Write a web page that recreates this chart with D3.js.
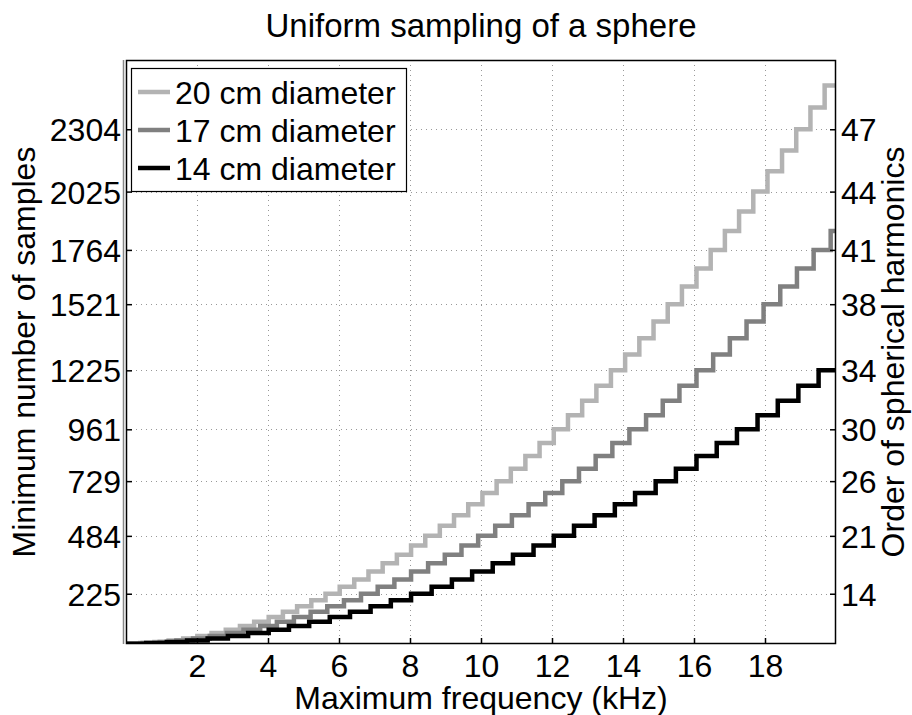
<!DOCTYPE html>
<html lang="en">
<head>
    <meta charset="utf-8">
    <title>Uniform sampling of a sphere</title>
    <script src="https://cdn.jsdelivr.net/npm/d3@7"></script>
    <style type="text/css">
    	body {
    		margin: 0;
    		background: #fff;
    	}
    	svg {
    		display: block;
    		font-family: "Liberation Sans", Arial, Helvetica, sans-serif;
    	}
    </style>
</head>
<body>
    <script type="text/javascript">
    // sample counts per order (index = order of spherical harmonics)
    var sampleLevels = [1, 4, 9, 16, 25, 36, 49, 64, 81, 100, 121, 144, 169, 196, 225, 256, 289, 324, 361, 400,
    	441, 484, 529, 576, 625, 676, 729, 784, 841, 900, 961, 1024, 1089, 1156, 1225, 1296, 1369, 1444, 1521, 1600,
    	1681, 1764, 1849, 1936, 2025, 2116, 2209, 2304, 2401, 2500, 2601];

    // frequencies (kHz) where the order goes up by one
    var edges20 = [0.40, 0.80, 1.20, 1.61, 2.01, 2.41, 2.81, 3.21, 3.61, 4.02, 4.42, 4.82, 5.22, 5.62, 6.02, 6.43,
    	6.83, 7.23, 7.63, 8.03, 8.43, 8.84, 9.24, 9.64, 10.04, 10.44, 10.84, 11.25, 11.65, 12.05, 12.45, 12.85,
    	13.25, 13.66, 14.06, 14.46, 14.86, 15.26, 15.66, 16.07, 16.47, 16.87, 17.27, 17.67, 18.07, 18.48, 18.88,
    	19.28, 19.68];
    var edges17 = [0.47, 0.95, 1.42, 1.89, 2.36, 2.84, 3.31, 3.78, 4.25, 4.73, 5.20, 5.67, 6.14, 6.62, 7.09, 7.56,
    	8.03, 8.51, 8.98, 9.45, 9.92, 10.40, 10.87, 11.34, 11.81, 12.29, 12.76, 13.23, 13.70, 14.18, 14.65, 15.12,
    	15.59, 16.07, 16.54, 17.01, 17.48, 17.96, 18.43, 18.90, 19.37, 19.85];
    var edges14 = [0.57, 1.15, 1.72, 2.30, 2.87, 3.44, 4.02, 4.59, 5.16, 5.74, 6.31, 6.89, 7.46, 8.03, 8.61, 9.18,
    	9.75, 10.33, 10.90, 11.48, 12.05, 12.62, 13.20, 13.77, 14.34, 14.92, 15.49, 16.07, 16.64, 17.21, 17.79,
    	18.36, 18.94, 19.51];

    var seriesNames = ["20 cm diameter", "17 cm diameter", "14 cm diameter"];
    var seriesEdges = [edges20, edges17, edges14];

    var xTicks = [2, 4, 6, 8, 10, 12, 14, 16, 18];
    var leftTicks = [225, 484, 729, 961, 1225, 1521, 1764, 2025, 2304];
    var rightTicks = [14, 21, 26, 30, 34, 38, 41, 44, 47];

    // look
    var colors = ["#b3b3b3", "#808080", "#000000"];
    var W = 912, H = 715;
    var pL = 126, pR = 836, pT = 60, pB = 644;	// plot box
    var fontSize = 32;

    var x = d3.scaleLinear().domain([0, 20]).range([pL, pR]);
    var y = d3.scaleLinear().domain([0, 2614]).range([pB, pT]);

    var svg = d3.select("body").append("svg")
    	.attr("width", W)
    	.attr("height", H);

    svg.append("clipPath").attr("id", "plotClip")
    	.append("rect")
    	.attr("x", pL).attr("y", pT)
    	.attr("width", pR - pL).attr("height", pB - pT);

    // dotted grid
    var grid = svg.append("g")
    	.attr("stroke", "#999")
    	.attr("stroke-width", 1)
    	.attr("stroke-dasharray", "1,4");
    grid.selectAll("line.gx").data(xTicks).enter().append("line")
    	.attr("x1", function(d){ return Math.round(x(d)) + 0.5; })
    	.attr("x2", function(d){ return Math.round(x(d)) + 0.5; })
    	.attr("y1", pT).attr("y2", pB);
    grid.selectAll("line.gy").data(leftTicks).enter().append("line")
    	.attr("y1", function(d){ return Math.round(y(d)) + 0.5; })
    	.attr("y2", function(d){ return Math.round(y(d)) + 0.5; })
    	.attr("x1", pL).attr("x2", pR);

    // step lines
    var line = d3.line()
    	.x(function(d){ return x(d[0]); })
    	.y(function(d){ return y(d[1]); })
    	.curve(d3.curveStepAfter);

    var lines = svg.append("g").attr("clip-path", "url(#plotClip)");
    seriesEdges.forEach(function(e, k){
    	var pts = [[0, sampleLevels[0]]];
    	e.forEach(function(f, i){ pts.push([f, sampleLevels[i + 1]]); });
    	pts.push([20, sampleLevels[e.length]]);
    	lines.append("path")
    		.datum(pts)
    		.attr("d", line)
    		.attr("fill", "none")
    		.attr("stroke", colors[k])
    		.attr("stroke-width", 4.5)
    		.attr("stroke-linejoin", "miter");
    });

    // axes box + inward ticks
    var xAxis = d3.axisBottom(x).tickValues(xTicks).tickSizeInner(-6).tickSizeOuter(0).tickPadding(10);
    var gx = svg.append("g").attr("transform", "translate(0," + pB + ")").call(xAxis);
    var yAxis = d3.axisLeft(y).tickValues(leftTicks).tickFormat(d3.format("d"))
    	.tickSizeInner(-6).tickSizeOuter(0).tickPadding(5);
    var gy = svg.append("g").attr("transform", "translate(" + pL + ",0)").call(yAxis);
    var yAxisR = d3.axisRight(y)
    	.tickValues(rightTicks.map(function(o){ return sampleLevels[o]; }))
    	.tickFormat(function(d, i){ return rightTicks[i]; })
    	.tickSizeInner(-6).tickSizeOuter(0).tickPadding(5);
    var gyr = svg.append("g").attr("transform", "translate(" + pR + ",0)").call(yAxisR);

    [gx, gy, gyr].forEach(function(g){
    	g.select(".domain").remove();
    	g.selectAll(".tick line").attr("stroke", "#000").attr("stroke-width", 1.5);
    	g.selectAll(".tick text").attr("font-size", fontSize).attr("fill", "#000")
    		.attr("font-family", "Liberation Sans, Arial, sans-serif");
    });
    gy.selectAll(".tick text").attr("dy", "0.36em");
    gyr.selectAll(".tick text").attr("dy", "0.36em");
    gx.selectAll(".tick text").attr("dy", "0.71em");

    svg.append("rect")
    	.attr("x", pL + 0.5).attr("y", pT + 0.5)
    	.attr("width", pR - pL - 1).attr("height", pB - pT - 1)
    	.attr("fill", "none").attr("stroke", "#000").attr("stroke-width", 1.5);
    svg.append("line")
    	.attr("x1", pL - 2.5).attr("x2", pL - 2.5)
    	.attr("y1", pT).attr("y2", pB)
    	.attr("stroke", "#888").attr("stroke-width", 1.5);

    // legend
    var legend = svg.append("g");
    legend.append("rect")
    	.attr("x", 131.5).attr("y", 68.5)
    	.attr("width", 275).attr("height", 123)
    	.attr("fill", "#fff").attr("stroke", "#000").attr("stroke-width", 1.2);
    seriesNames.forEach(function(name, k){
    	var ly = 92 + k * 38;
    	legend.append("line")
    		.attr("x1", 138).attr("x2", 170)
    		.attr("y1", ly).attr("y2", ly)
    		.attr("stroke", colors[k]).attr("stroke-width", 4.5);
    	legend.append("text")
    		.attr("x", 175).attr("y", ly + 11.5)
    		.attr("font-size", fontSize)
    		.text(name);
    });

    // titles
    svg.append("text")
    	.attr("x", (pL + pR) / 2).attr("y", 37)
    	.attr("text-anchor", "middle")
    	.attr("font-size", 33)
    	.text("Uniform sampling of a sphere");
    svg.append("text")
    	.attr("x", (pL + pR) / 2).attr("y", 709)
    	.attr("text-anchor", "middle")
    	.attr("font-size", fontSize)
    	.text("Maximum frequency (kHz)");
    svg.append("text")
    	.attr("transform", "translate(35," + (pT + pB) / 2 + ") rotate(-90)")
    	.attr("text-anchor", "middle")
    	.attr("font-size", fontSize)
    	.text("Minimum number of samples");
    svg.append("text")
    	.attr("transform", "translate(904," + (pT + pB) / 2 + ") rotate(-90)")
    	.attr("text-anchor", "middle")
    	.attr("font-size", fontSize)
    	.text("Order of spherical harmonics");
    </script>
</body>
</html>
